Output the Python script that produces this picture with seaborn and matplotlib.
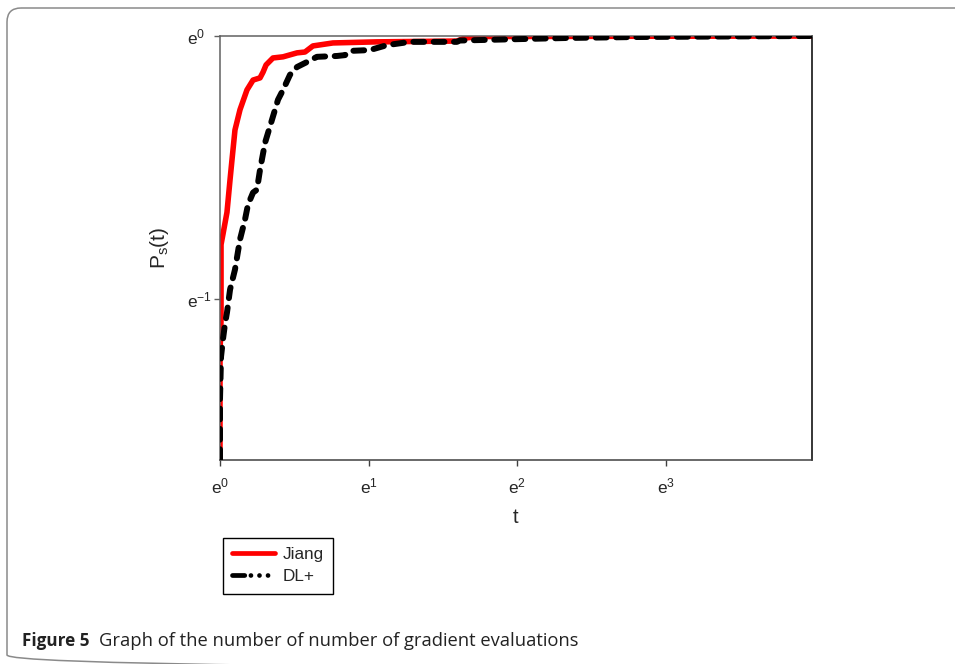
import numpy as np
import matplotlib
matplotlib.use('Agg')
import matplotlib.pyplot as plt
from matplotlib.lines import Line2D
from matplotlib.patches import FancyBboxPatch
from matplotlib.ticker import NullLocator
import seaborn as sns

# performance profile values
jiang_t = [1.000, 1.000, 1.007, 1.007, 1.020, 1.048, 1.070, 1.084, 1.106, 1.144,
           1.199, 1.249, 1.309, 1.336, 1.363, 1.428, 1.528, 1.679, 1.771, 1.868,
           2.138, 2.873, 4.920, 5.200, 5.750, 53.6]
jiang_p = [0.200, 0.300, 0.341, 0.453, 0.471, 0.512, 0.580, 0.625, 0.700, 0.756,
           0.815, 0.846, 0.853, 0.872, 0.896, 0.920, 0.924, 0.938, 0.941, 0.963,
           0.974, 0.978, 0.981, 0.9925, 0.998, 1.000]

dl_t = [1.000, 1.000, 1.007, 1.020, 1.034, 1.048, 1.070, 1.106, 1.144, 1.183,
        1.207, 1.249, 1.282, 1.309, 1.354, 1.419, 1.477, 1.528, 1.601, 1.679,
        1.795, 1.919, 2.197, 2.318, 2.398, 2.741, 3.075, 3.591, 4.920, 5.020,
        10.3, 16.6, 53.6]
dl_p = [0.200, 0.252, 0.296, 0.316, 0.335, 0.350, 0.382, 0.412, 0.462, 0.498,
        0.527, 0.552, 0.558, 0.602, 0.667, 0.728, 0.785, 0.815, 0.863, 0.889,
        0.906, 0.924, 0.927, 0.930, 0.945, 0.948, 0.966, 0.978, 0.978, 0.983,
        0.9925, 0.9962, 1.000]

x_ticks = [1, np.e, np.e ** 2, np.e ** 3]
x_tick_labels = [r'$\mathregular{e^{0}}$', r'$\mathregular{e^{1}}$',
                 r'$\mathregular{e^{2}}$', r'$\mathregular{e^{3}}$']
y_ticks = [np.exp(-1), 1]
y_tick_labels = [r'$\mathregular{e^{-1}}$', r'$\mathregular{e^{0}}$']

sns.set_style('white')
plt.rcParams['font.family'] = ['Liberation Sans', 'DejaVu Sans']
plt.rcParams['mathtext.fontset'] = 'custom'
plt.rcParams['mathtext.rm'] = 'Liberation Sans'
plt.rcParams['mathtext.it'] = 'Liberation Sans'

fig = plt.figure(figsize=(9.55, 6.64), dpi=100)

# page frame with rounded corners
bg = fig.add_axes([0, 0, 1, 1], zorder=-1)
bg.set_xlim(0, 955)
bg.set_ylim(664, 0)
bg.axis('off')
bg.add_patch(FancyBboxPatch((7, 8), 1100, 661, boxstyle='round,pad=0,rounding_size=14',
                            fill=False, edgecolor='#8a8a8a', lw=1.1))

ax = fig.add_axes([220 / 955, 1 - 460 / 664, 592 / 955, 424 / 664])
sns.lineplot(x=jiang_t, y=jiang_p, sort=False, estimator=None, color='#ff0000',
             lw=4.0, solid_capstyle='butt', ax=ax, zorder=2)
sns.lineplot(x=dl_t, y=dl_p, sort=False, estimator=None, color='black',
             lw=4.3, linestyle=(0, (1.8, 1.6)), dash_capstyle='round', ax=ax, zorder=3)

ax.set_xscale('log', base=np.e)
ax.set_yscale('log', base=np.e)
ax.set_xlim(1, 53.6)
ax.set_ylim(0.2, 1.0)
ax.xaxis.set_minor_locator(NullLocator())
ax.yaxis.set_minor_locator(NullLocator())
ax.set_xticks(x_ticks)
ax.set_xticklabels(x_tick_labels)
ax.set_yticks(y_ticks)
ax.set_yticklabels(y_tick_labels)
for lab in ax.get_yticklabels():
    lab.set_ha('left')

ax.tick_params(axis='x', direction='out', length=4, width=1, color='#404040',
               labelsize=12.5, pad=8, bottom=True)
ax.tick_params(axis='y', direction='out', length=4.5, width=1, color='#606060',
               labelsize=12.5, pad=19.5, left=True)

for side in ['left', 'top']:
    ax.spines[side].set_color('#606060')
ax.spines['bottom'].set_color('#404040')
ax.spines['right'].set_color('black')
for s in ax.spines.values():
    s.set_linewidth(1.1)

ax.set_xlabel('t', fontsize=14.5)
ax.set_ylabel(r'$\mathregular{P_s(t)}$', fontsize=15)
ax.xaxis.set_label_coords(0.5, -0.113)
ax.yaxis.set_label_coords(-0.083, 0.5)

handles = [
    Line2D([], [], color='#ff0000', lw=3.4, solid_capstyle='round'),
    Line2D([], [], color='black', lw=3.4, dash_capstyle='round',
           linestyle=(0, (2.6, 1.3, 0.01, 1.8, 0.01, 1.8, 0.01, 1.8))),
]
leg = ax.legend(handles, ['Jiang', 'DL+'], loc='upper left',
                bbox_to_anchor=(223 / 955, 1 - 538 / 664), bbox_transform=fig.transFigure,
                frameon=True, fancybox=False, edgecolor='black', framealpha=1,
                borderaxespad=0, fontsize=12.3, handlelength=2.5, labelspacing=0.4,
                borderpad=0.55, handletextpad=0.45)
leg.get_frame().set_linewidth(1.0)

cap = fig.text(22 / 955, 1 - 646 / 664, 'Figure 5', fontsize=12.3, fontweight='bold',
               family=['Open Sans', 'DejaVu Sans'], va='baseline', ha='left', color='#222222')
bg.annotate('Graph of the number of number of gradient evaluations', xy=(1, 0),
            xycoords=cap, xytext=(7, 0), textcoords='offset points', va='bottom',
            fontsize=13.2, family=['Open Sans', 'DejaVu Sans'], color='#222222',
            annotation_clip=False)

fig.savefig('out.png', dpi=100)
